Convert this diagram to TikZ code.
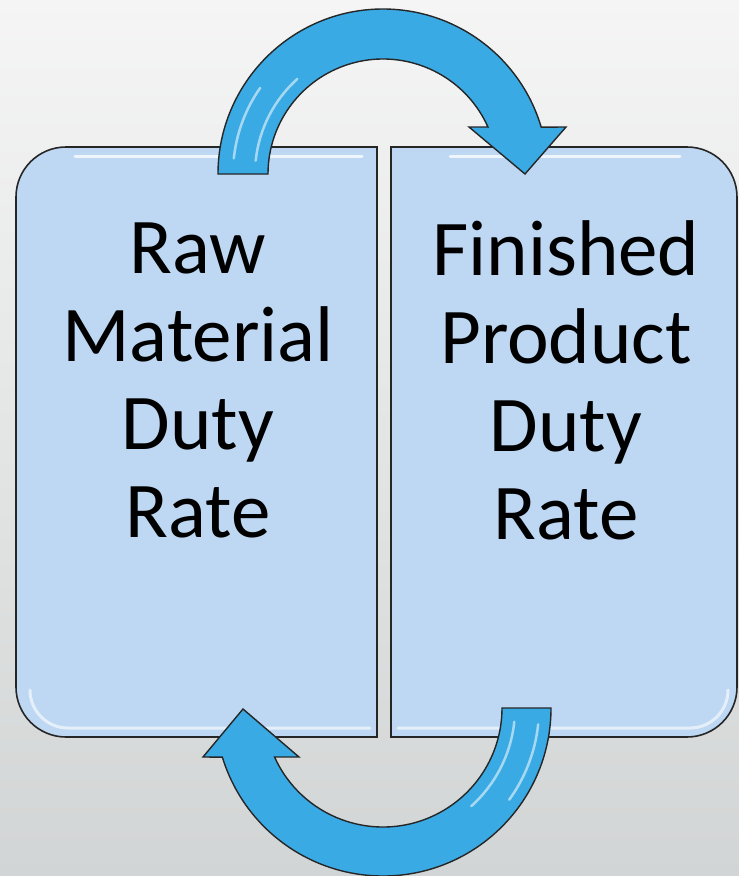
\documentclass[tikz,border=0pt]{standalone}
\usepackage{fontspec}
\setmainfont{Carlito}
\definecolor{boxblue}{RGB}{190,216,243}
\definecolor{arrowblue}{RGB}{58,170,228}
\definecolor{bgtop}{RGB}{245,245,245}
\definecolor{bgbottom}{RGB}{210,213,213}

\begin{document}
\begin{tikzpicture}[x=1pt,y=-1pt,
       dutybox/.style={fill=boxblue,draw=black!85,line width=1.6pt},
       turnarrow/.style={fill=arrowblue,draw=black!85,line width=1.4pt,line join=miter},
       shine/.style={white,line width=3pt,opacity=0.75,line cap=round},
       boxtext/.style={align=center,inner sep=0pt,font=\fontsize{79}{88}\selectfont}]
       % background
       \useasboundingbox (0,0) rectangle (739,876);
       \shade[top color=bgtop,bottom color=bgbottom] (0,0) rectangle (739,876);
       % boxes
       \draw[dutybox] (377,147) -- (66,147) arc[start angle=270,end angle=180,radius=50]
             -- (16,687) arc[start angle=180,end angle=90,radius=50] -- (377,737) -- cycle;
       \draw[dutybox] (391,147) -- (687,147) arc[start angle=270,end angle=360,radius=50]
             -- (737,687) arc[start angle=0,end angle=90,radius=50] -- (391,737) -- cycle;
       \draw[shine] (75,156) -- (362,156);
       \draw[shine] (450,156) -- (680,156);
       \draw[shine,opacity=0.6] (30,690) arc[start angle=180,end angle=90,radius=38] -- (370,728);
       \draw[shine,opacity=0.6] (398,728) -- (690,728) arc[start angle=90,end angle=0,radius=38];
       % texts
       \node[boxtext] (raw) at (198,380) {Raw\\Material\\Duty\\Rate};
       \node[boxtext] (fin) at (566,380) {Finished\\Product\\Duty\\Rate};
       % curved arrows
       \coordinate (topc) at (383,174);
       \coordinate (botc) at (383,708);
       \filldraw[turnarrow] ([shift={(335.9:115)}]topc) arc[start angle=335.9,end angle=180,radius=115]
             -- ++(-50,0) arc[start angle=180,end angle=343.5,radius=165]
             -- (566,127) -- (525,174) -- (469,127) -- cycle;
       \filldraw[turnarrow] ([shift={(0:119)}]botc) -- ++(49,0) arc[start angle=0,end angle=163,radius=168]
             -- (203,757) -- (243,709) -- (299,757) -- ([shift={(155.7:119)}]botc)
             arc[start angle=155.7,end angle=0,radius=119] -- cycle;
       % highlights on the arrows
       \draw[shine,line width=2.5pt,opacity=0.55] ([shift={(186:128)}]topc) arc[start angle=186,end angle=228,radius=128];
       \draw[shine,line width=2.5pt,opacity=0.55] ([shift={(186:150)}]topc) arc[start angle=186,end angle=215,radius=150];
       \draw[shine,line width=2.5pt,opacity=0.55] ([shift={(6:132)}]botc) arc[start angle=6,end angle=48,radius=132];
       \draw[shine,line width=2.5pt,opacity=0.55] ([shift={(6:156)}]botc) arc[start angle=6,end angle=36,radius=156];
\end{tikzpicture}
\end{document}
